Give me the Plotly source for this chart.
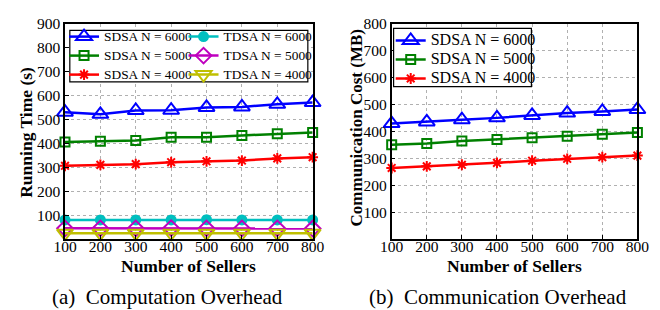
import plotly.graph_objects as go

W, H = 660, 310

sellers = [100, 200, 300, 400, 500, 600, 700, 800]

# (a) Running time (s)
sdsa_6000_time = [530, 521, 537, 538, 550, 552, 563, 570]
sdsa_5000_time = [405, 409, 412, 425, 425, 433, 440, 445]
sdsa_4000_time = [306, 310, 313, 321, 325, 328, 337, 342]
tdsa_6000_time = [80, 80, 80, 80, 81, 80, 80, 80]
tdsa_5000_time = [45, 45, 45, 46, 45, 45, 45, 44]
tdsa_4000_time = [25, 25, 25, 25, 25, 25, 25, 25]

# (b) Communication cost (MB)
sdsa_6000_comm = [429, 435, 443, 450, 459, 468, 474, 481]
sdsa_5000_comm = [350, 355, 364, 370, 376, 382, 389, 396]
sdsa_4000_comm = [264, 270, 276, 283, 291, 298, 304, 310]

time_ticks = [100, 200, 300, 400, 500, 600, 700, 800, 900]
comm_ticks = [100, 200, 300, 400, 500, 600, 700, 800]

FONT = "Liberation Serif"

def px_x(p):
    return p / W

def px_y(p):
    return 1 - p / H

fig = go.Figure()

styles = {
    "SDSA N = 6000": dict(color="#0000FF", symbol="triangle-up-open", size=14),
    "SDSA N = 5000": dict(color="#008000", symbol="square-open", size=9),
    "SDSA N = 4000": dict(color="#FF0000", symbol="asterisk-open", size=9),
    "TDSA N = 6000": dict(color="#00BFBF", symbol="circle", size=9),
    "TDSA N = 5000": dict(color="#BF00BF", symbol="diamond-open", size=12),
    "TDSA N = 4000": dict(color="#BFBF00", symbol="triangle-down-open", size=14),
}

def add(name, y, xa, ya, legend, rank, txt_size):
    s = styles[name]
    fig.add_trace(go.Scatter(
        x=sellers, y=y,
        name=f'<span style="font-size:{txt_size}px">{name}</span>',
        mode="lines+markers", cliponaxis=False,
        xaxis=xa, yaxis=ya, legend=legend, legendrank=rank,
        line=dict(color=s["color"], width=2.5),
        marker=dict(symbol=s["symbol"], size=s["size"], color=s["color"],
                    line=dict(color=s["color"], width=2)),
    ))

add("SDSA N = 6000", sdsa_6000_time, "x", "y", "legend", 1, 13.4)
add("SDSA N = 5000", sdsa_5000_time, "x", "y", "legend", 2, 13.4)
add("SDSA N = 4000", sdsa_4000_time, "x", "y", "legend", 3, 13.4)
add("TDSA N = 6000", tdsa_6000_time, "x", "y", "legend2", 1, 13.4)
add("TDSA N = 5000", tdsa_5000_time, "x", "y", "legend2", 2, 13.4)
add("TDSA N = 4000", tdsa_4000_time, "x", "y", "legend2", 3, 13.4)
add("SDSA N = 6000", sdsa_6000_comm, "x2", "y2", "legend3", 1, 16)
add("SDSA N = 5000", sdsa_5000_comm, "x2", "y2", "legend3", 2, 16)
add("SDSA N = 4000", sdsa_4000_comm, "x2", "y2", "legend3", 3, 16)

axis_common = dict(
    showline=True, mirror=True, linecolor="black", linewidth=1.5,
    ticks="inside", ticklen=4, tickcolor="black",
    showgrid=True, gridcolor="#b0b0b0", griddash="dot", gridwidth=1,
    zeroline=False,
    tickfont=dict(family=FONT, size=15.5, color="black"),
)

ydom = [px_y(237), px_y(15)]
leg_common = dict(xanchor="left", yanchor="top", bgcolor="rgba(0,0,0,0)",
                  borderwidth=0, font=dict(family=FONT, size=12, color="black"),
                  itemwidth=30)

fig.update_layout(
    width=W, height=H,
    margin=dict(l=0, r=0, t=0, b=0),
    paper_bgcolor="white", plot_bgcolor="white",
    font=dict(family=FONT, color="black"),
    hovermode=False,
    xaxis=dict(domain=[px_x(55), px_x(312)], range=[100, 800], tickvals=sellers,
               anchor="y", ticklabelstandoff=-7, **axis_common),
    yaxis=dict(domain=ydom, range=[0, 900], tickvals=time_ticks,
               anchor="x", **axis_common),
    xaxis2=dict(domain=[px_x(394), px_x(649)], range=[100, 800], tickvals=sellers,
                anchor="y2", ticklabelstandoff=-7, **axis_common),
    yaxis2=dict(domain=ydom, range=[0, 800], tickvals=comm_ticks,
                anchor="x2", **axis_common),
    legend=dict(x=px_x(54), y=px_y(13.5), **leg_common),
    legend2=dict(x=px_x(178), y=px_y(13.5), **leg_common),
    legend3=dict(x=px_x(393), y=px_y(17.5), **leg_common),
    shapes=[
        dict(type="rect", xref="paper", yref="paper",
             x0=px_x(60), x1=px_x(307), y0=px_y(75), y1=px_y(22),
             line=dict(color="black", width=1.2), fillcolor="white", layer="above"),
        dict(type="rect", xref="paper", yref="paper",
             x0=px_x(396), x1=px_x(539), y0=px_y(80), y1=px_y(20),
             line=dict(color="black", width=1.2), fillcolor="white", layer="above"),
    ],
    annotations=[
        dict(text="<b>Running Time (s)</b>", textangle=-90, xref="paper", yref="paper",
             x=px_x(15), y=px_y(127), showarrow=False, xanchor="center", yanchor="middle",
             font=dict(family=FONT, size=17.5)),
        dict(text="<b>Communication Cost (MB)</b>", textangle=-90, xref="paper", yref="paper",
             x=px_x(357), y=px_y(123), showarrow=False, xanchor="center", yanchor="middle",
             font=dict(family=FONT, size=17)),
        dict(text="<b>Number of Sellers</b>", xref="paper", yref="paper",
             x=px_x(183), y=px_y(265), showarrow=False, xanchor="center", yanchor="middle",
             font=dict(family=FONT, size=17.5)),
        dict(text="<b>Number of Sellers</b>", xref="paper", yref="paper",
             x=px_x(521), y=px_y(265), showarrow=False, xanchor="center", yanchor="middle",
             font=dict(family=FONT, size=17.5)),
        dict(text="(a)\u00a0 Computation Overhead", xref="paper", yref="paper",
             x=px_x(161), y=px_y(297), showarrow=False, xanchor="center", yanchor="middle",
             font=dict(family=FONT, size=21)),
        dict(text="(b)\u00a0 Communication Overhead", xref="paper", yref="paper",
             x=px_x(504), y=px_y(297), showarrow=False, xanchor="center", yanchor="middle",
             font=dict(family=FONT, size=21)),
    ],
)

fig.write_html(
    "out.html",
    config={"displayModeBar": False},
    post_script="document.body.style.margin='0';document.body.style.overflow='hidden';",
)
